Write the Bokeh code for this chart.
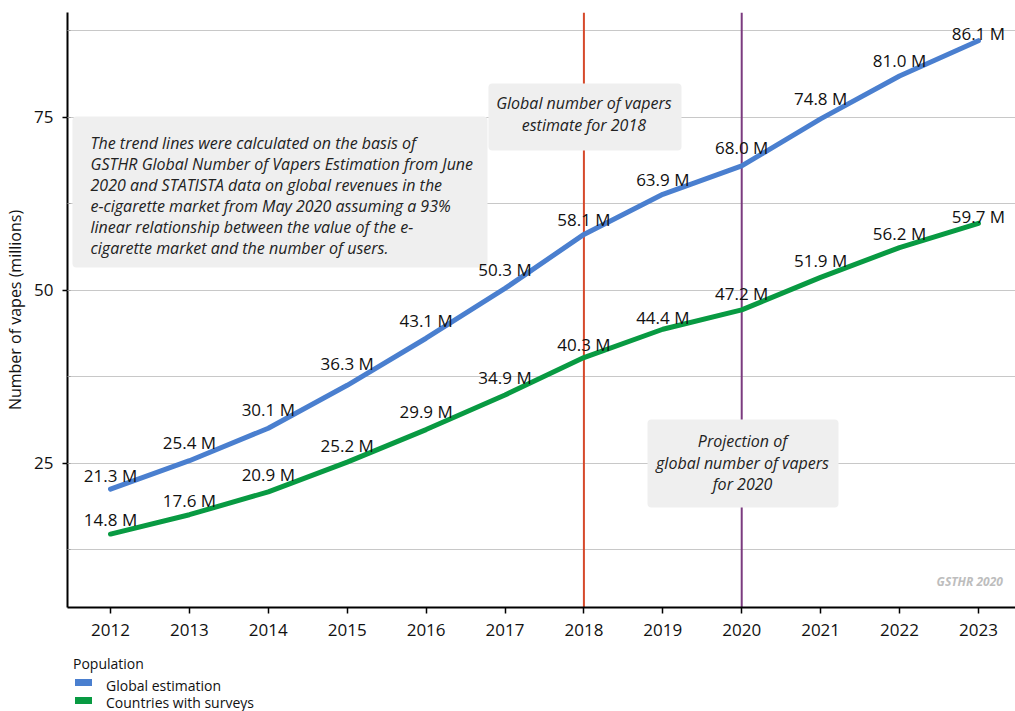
from bokeh.plotting import figure
from bokeh.models import (Range1d, FixedTicker, SingleIntervalTicker, BoxAnnotation,
                          Label, Span, Div, ColumnDataSource)
from bokeh.layouts import column
from bokeh.embed import file_html
from bokeh.resources import INLINE
from bokeh.core.properties import value

# ---- data ----
years = [2012, 2013, 2014, 2015, 2016, 2017, 2018, 2019, 2020, 2021, 2022, 2023]
global_est = [21.3, 25.4, 30.1, 36.3, 43.1, 50.3, 58.1, 63.9, 68.0, 74.8, 81.0, 86.1]
countries = [14.8, 17.6, 20.9, 25.2, 29.9, 34.9, 40.3, 44.4, 47.2, 51.9, 56.2, 59.7]
series_names = ["Global estimation", "Countries with surveys"]
legend_title = "Population"
y_label = "Number of vapes (millions)"
note_text = ("The trend lines were calculated on the basis of\n"
             "GSTHR Global Number of Vapers Estimation from June\n"
             "2020 and STATISTA data on global revenues in the\n"
             "e-cigarette market from May 2020 assuming a 93%\n"
             "linear relationship between the value of the e-\n"
             "cigarette market and the number of users.")
marker_2018_text = "Global number of vapers\nestimate for 2018"
marker_2020_text = "Projection of\nglobal number of vapers\nfor 2020"
watermark = "GSTHR 2020"

# label lift above each point (screen px), as placed in the original
global_label_lift = [14, 18, 19, 22, 18, 19, 15, 15, 18, 20, 15, 7]
countries_label_lift = [15, 14, 17, 17, 18, 17, 13, 12, 16, 17, 14, 7]

FONT = "Open Sans"
BLUE = "#4a7fcf"
GREEN = "#089a42"
RED = "#d6492b"
PURPLE = "#7b3b7f"
BOXFILL = "#efefef"
series_colors = [BLUE, GREEN]

p = figure(frame_width=948, frame_height=595, output_backend="svg", toolbar_location=None,
           x_range=Range1d(2011.455, 2023.47), y_range=Range1d(4.19, 90.17),
           min_border_left=67, min_border_right=0, min_border_top=12, min_border_bottom=43)
p.outline_line_color = None
p.background_fill_color = "white"

# axes
p.xaxis.ticker = FixedTicker(ticks=years)
p.yaxis.ticker = SingleIntervalTicker(interval=25, num_minor_ticks=2)
for ax in (p.xaxis[0], p.yaxis[0]):
    ax.axis_line_color = "black"
    ax.axis_line_width = 2
    ax.major_tick_line_color = "black"
    ax.major_tick_line_width = 1.5
    ax.major_tick_in = 0
    ax.major_label_text_font = FONT
    ax.major_label_text_font_size = "17px"
    ax.major_label_text_color = "#111111"
p.xaxis.major_tick_out = 6
p.xaxis.minor_tick_line_color = None
p.xaxis.major_label_standoff = 10
p.yaxis.major_tick_out = 5
p.yaxis.minor_tick_in = 3
p.yaxis.minor_tick_out = 0
p.yaxis.minor_tick_line_color = "#999999"
p.yaxis.major_label_standoff = 9
p.yaxis.axis_label = y_label
p.yaxis.axis_label_text_font = FONT
p.yaxis.axis_label_text_font_size = "16px"
p.yaxis.axis_label_text_font_style = "normal"
p.yaxis.axis_label_text_color = "#111111"
p.yaxis.axis_label_standoff = 5

p.xgrid.grid_line_color = None
p.ygrid.grid_line_color = "#c8c8c8"
p.ygrid.minor_grid_line_color = "#c8c8c8"

# vertical markers
p.add_layout(Span(location=2018, dimension="height", line_color=RED, line_width=2, level="underlay"))
p.add_layout(Span(location=2020, dimension="height", line_color=PURPLE, line_width=2, level="underlay"))

src = ColumnDataSource(dict(x=years, g=global_est, c=countries,
                            gl=[f"{v:.1f} M" for v in global_est],
                            cl=[f"{v:.1f} M" for v in countries],
                            go=[-d for d in global_label_lift],
                            co=[-d for d in countries_label_lift]))
p.line("x", "g", source=src, line_color=BLUE, line_width=5, line_cap="round", line_join="round")
p.line("x", "c", source=src, line_color=GREEN, line_width=5, line_cap="round", line_join="round")

for col, ycol, off in (("gl", "g", "go"), ("cl", "c", "co")):
    p.text(x="x", y=ycol, text=col, source=src, text_font=value(FONT), text_font_size="17px",
           text_color="#111111", text_align="center", text_baseline="alphabetic", y_offset=off,
           level="overlay")

# annotation boxes
boxes = [
    (2011.518, 2016.778, 75.14, 53.32),
    (2016.79, 2019.237, 79.91, 70.23),
    (2018.806, 2021.227, 31.36, 18.64),
]
for l, r, t, b in boxes:
    p.add_layout(BoxAnnotation(left=l, right=r, top=t, bottom=b, fill_color=BOXFILL, fill_alpha=1,
                               line_color=None, border_radius=4))

TXT = dict(text_font=FONT, text_font_size="16px", text_font_style="italic", text_color="#222222",
           text_baseline="middle", text_line_height=0.96)
p.add_layout(Label(x=2011.747, y=63.73, text=note_text, text_align="left", **TXT))
p.add_layout(Label(x=2018.0, y=75.5, text=marker_2018_text, text_align="center", **TXT))
p.add_layout(Label(x=2020.01, y=25.14, text=marker_2020_text, text_align="center", **TXT))

p.add_layout(Label(x=2022.47, y=7.95, text=watermark, text_font=FONT, text_font_size="12px",
                   text_font_style="bold italic", text_color="#bdbdbd", text_align="left",
                   text_baseline="middle"))

# legend below the chart (HTML, real text)
item_tops = [28, 45]
swatch_tops = [29, 47]
html = ['<div style="position:relative;width:400px;height:61px;overflow:hidden;'
        f'font-family:\'{FONT}\';font-size:14px;color:#111111;line-height:16px;">',
        f'<div style="position:absolute;left:73px;top:6px;">{legend_title}</div>']
for name, colr, tt, st in zip(series_names, series_colors, item_tops, swatch_tops):
    html.append(f'<div style="position:absolute;left:75px;top:{st}px;width:17px;height:7px;'
                f'background:{colr};"></div>')
    html.append(f'<div style="position:absolute;left:106px;top:{tt}px;">{name}</div>')
html.append('</div>')
legend_div = Div(text="".join(html), width=400, height=61, margin=(0, 0, 0, 0))

layout = column(p, legend_div, spacing=0)
open("out.html", "w").write(file_html(layout, INLINE))
